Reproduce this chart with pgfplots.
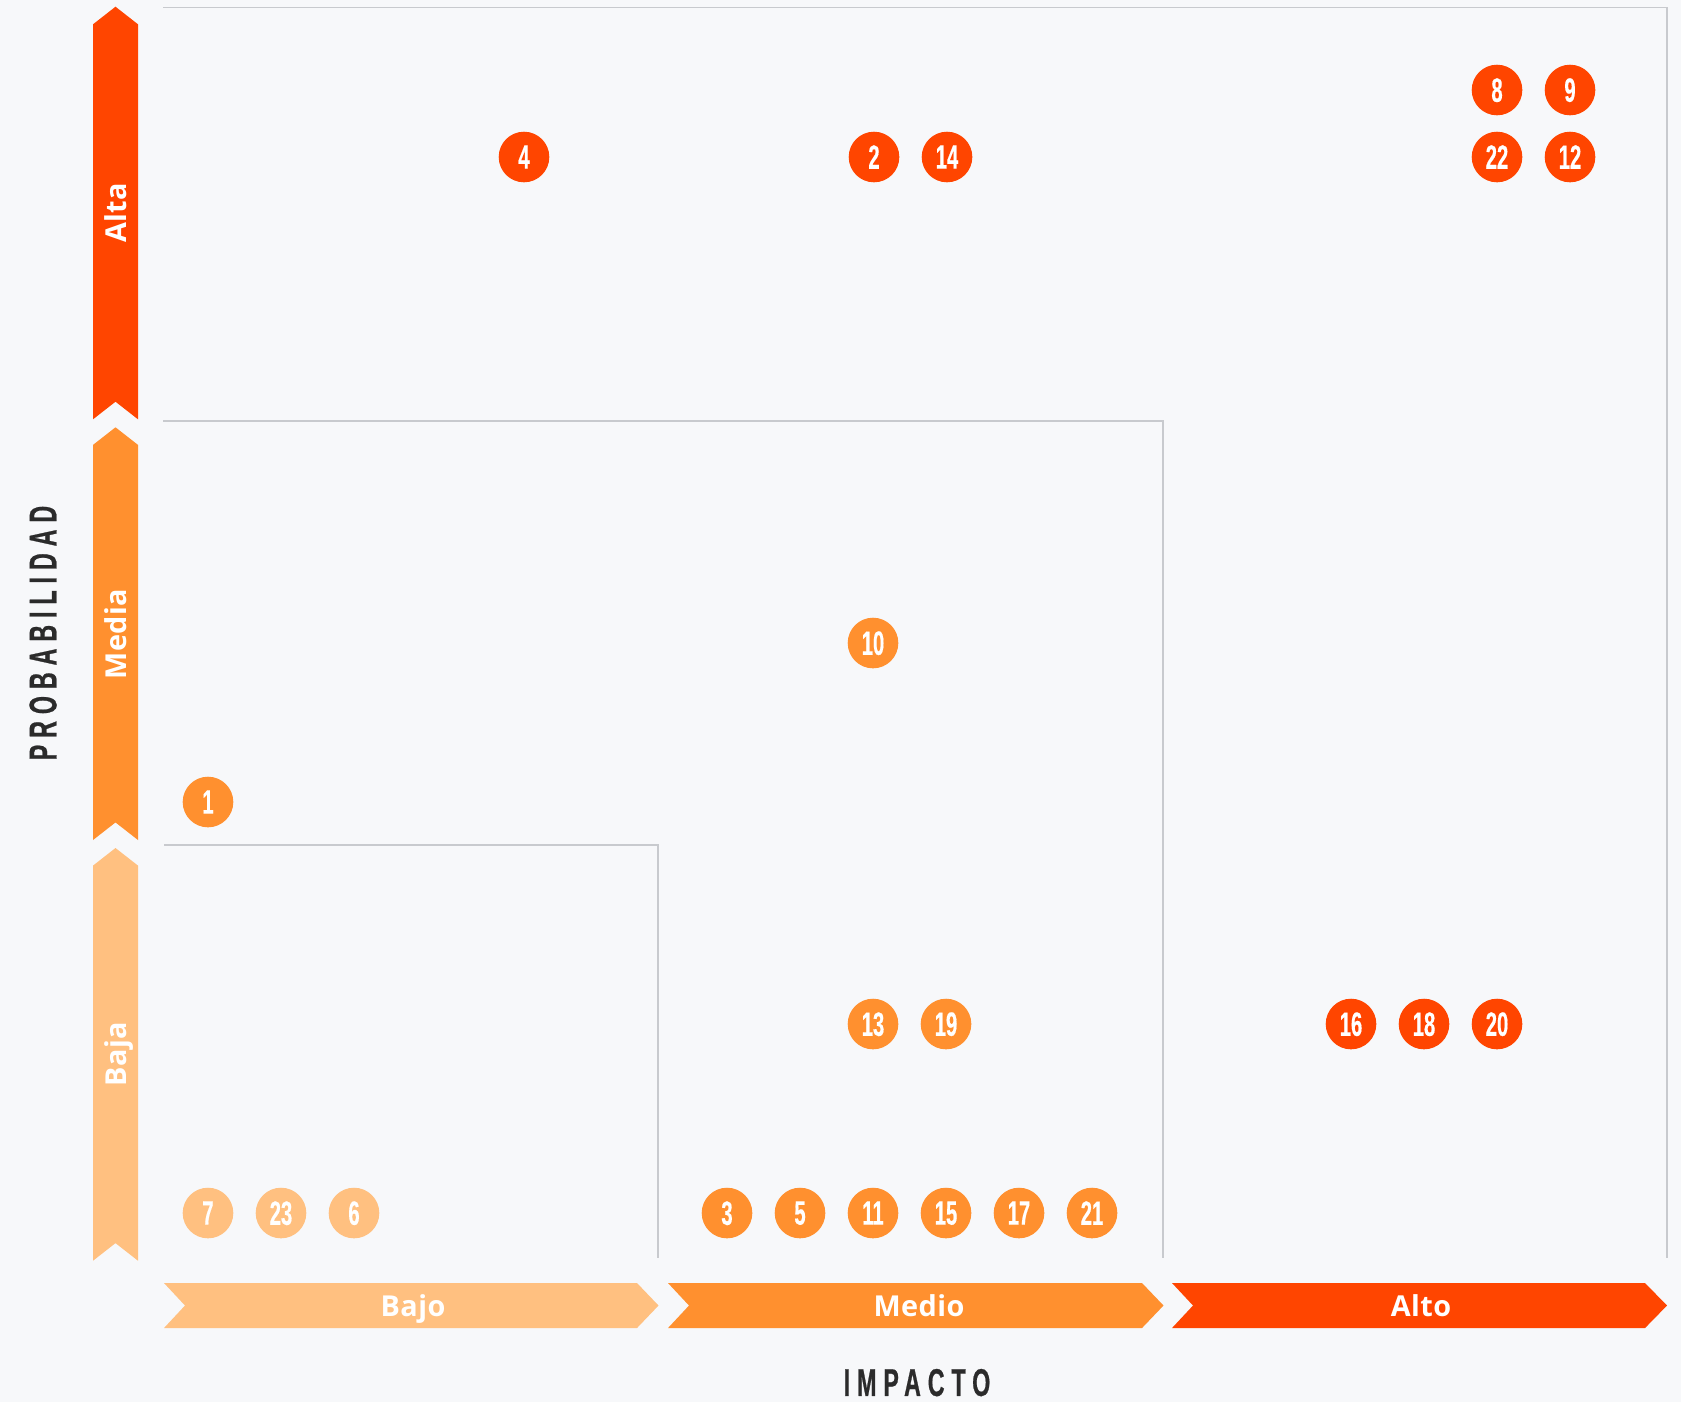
\documentclass[border=0pt]{standalone}
\usepackage{fontspec}
\usepackage{pgfplots}
\pgfplotsset{compat=1.18}
\setmainfont{Open Sans}
\newfontfamily\numfont{Liberation Sans}[UprightFont={* Bold}, FakeStretch=0.6, FakeBold=0.4]
\newfontfamily\titlefont{Liberation Sans}[UprightFont={* Bold}, FakeStretch=0.6, LetterSpace=18, FakeBold=0.6]
\newfontfamily\catfont{Open Sans}[UprightFont={* Bold}, LetterSpace=1.5]
\definecolor{bg}{HTML}{F7F8FA}
\definecolor{cRed}{HTML}{FF4500}
\definecolor{cMed}{HTML}{FF902F}
\definecolor{cLight}{HTML}{FFC080}
\definecolor{gridc}{HTML}{C8CACE}
\definecolor{txt}{HTML}{2B2B2B}

\pgfplotstableread{
x y label
524 157 4
874 157 2
947 157 14
1497 90 8
1570 90 9
1497 157 22
1570 157 12
1351 1024 16
1424 1024 18
1497 1024 20
}\redtab
\pgfplotstableread{
x y label
873 643 10
208 802 1
873 1024 13
946 1024 19
727 1213 3
800 1213 5
873 1213 11
946 1213 15
1019 1213 17
1092 1213 21
}\medtab
\pgfplotstableread{
x y label
208 1213 7
281 1213 23
354 1213 6
}\lighttab

\begin{document}
\begin{tikzpicture}
\begin{axis}[
  scale only axis, width=16.81cm, height=14.02cm,
  xmin=0, xmax=1681, ymin=0, ymax=1402, y dir=reverse,
  hide axis, clip=false,
  every axis plot/.append style={only marks, mark=*, mark size=7pt},
  nodes near coords, point meta=explicit symbolic,
  nodes near coords style={anchor=center, text=white, inner sep=0pt, text depth=0pt,
    font=\numfont\fontsize{9.6}{9.6}\selectfont},
]
% background
\fill[bg] (axis cs:0,0) rectangle (axis cs:1681,1402);
% grid boxes
\draw[gridc, line width=0.45pt] (axis cs:163,7.3) -- (axis cs:1667,7.3) -- (axis cs:1667,1257.6);
\draw[gridc, line width=0.45pt] (axis cs:163,420.7) -- (axis cs:1163,420.7) -- (axis cs:1163,1257.6);
\draw[gridc, line width=0.45pt] (axis cs:164,845) -- (axis cs:658,845) -- (axis cs:658,1257.6);
% vertical arrows
\fill[cRed] (axis cs:93,24.3) -- (axis cs:115.5,6.7) -- (axis cs:138,24.3) -- (axis cs:138,419.3) -- (axis cs:115.5,401.7) -- (axis cs:93,419.3) -- cycle;
\fill[cMed] (axis cs:93,444.9) -- (axis cs:115.5,427.3) -- (axis cs:138,444.9) -- (axis cs:138,840) -- (axis cs:115.5,822.4) -- (axis cs:93,840) -- cycle;
\fill[cLight] (axis cs:93,865.6) -- (axis cs:115.5,848) -- (axis cs:138,865.6) -- (axis cs:138,1260.7) -- (axis cs:115.5,1243.1) -- (axis cs:93,1260.7) -- cycle;
% horizontal arrows
\fill[cLight] (axis cs:164,1283) -- (axis cs:637,1283) -- (axis cs:658.5,1305.5) -- (axis cs:637,1328) -- (axis cs:164,1328) -- (axis cs:185,1305.5) -- cycle;
\fill[cMed] (axis cs:668,1283) -- (axis cs:1142,1283) -- (axis cs:1163.5,1305.5) -- (axis cs:1142,1328) -- (axis cs:668,1328) -- (axis cs:689,1305.5) -- cycle;
\fill[cRed] (axis cs:1172,1283) -- (axis cs:1645,1283) -- (axis cs:1667,1305.5) -- (axis cs:1645,1328) -- (axis cs:1172,1328) -- (axis cs:1193,1305.5) -- cycle;
% arrow labels
\tikzset{cat/.style={text=white, inner sep=0pt, text height=6pt, text depth=0pt, font=\catfont\fontsize{8.2}{8.2}\selectfont}}
\node[cat, rotate=90] at (axis cs:115.5,213) {Alta};
\node[cat, rotate=90] at (axis cs:115.5,634) {Media};
\node[cat, rotate=90] at (axis cs:115.5,1054) {Baja};
\node[cat] at (axis cs:413,1305.5) {Bajo};
\node[cat] at (axis cs:919,1305.5) {Medio};
\node[cat] at (axis cs:1421,1305.5) {Alto};
% axis titles
\node[text=txt, inner sep=0pt, text height=7.9pt, text depth=0pt, rotate=90, font=\titlefont\fontsize{11}{11}\selectfont] at (axis cs:42.5,633) {PROBABILIDAD};
\node[text=txt, inner sep=0pt, text height=7.9pt, text depth=0pt, font=\titlefont\fontsize{11}{11}\selectfont] at (axis cs:917,1382) {IMPACTO};
% risks
\addplot[color=cRed, mark options={fill=cRed, draw=cRed}] table[x=x, y=y, meta=label] {\redtab};
\addplot[color=cMed, mark options={fill=cMed, draw=cMed}] table[x=x, y=y, meta=label] {\medtab};
\addplot[color=cLight, mark options={fill=cLight, draw=cLight}] table[x=x, y=y, meta=label] {\lighttab};
\end{axis}
\end{tikzpicture}
\end{document}
